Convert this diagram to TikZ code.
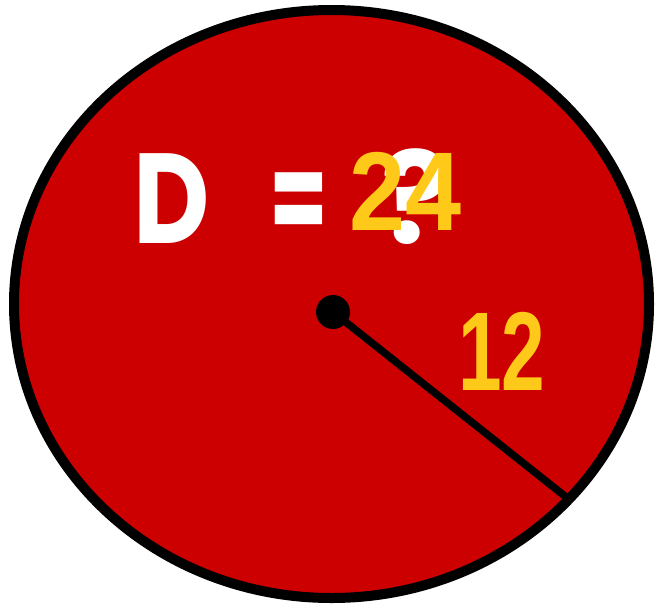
\documentclass[tikz,border=0pt]{standalone}
\usepackage{fontspec}
\usepackage{graphicx}
\usetikzlibrary{shapes.geometric}
\newfontfamily\handfont{Poppins}
\newfontfamily\numfont{Liberation Sans}
\definecolor{discred}{HTML}{CC0000}
\definecolor{numyellow}{HTML}{FFC91A}
\tikzset{
  disc/.style={draw=black, line width=10pt, fill=discred},
  radiusline/.style={draw=black, line width=7.5pt},
  handtext/.style={text=white, font=\handfont\fontsize{128}{128}\selectfont\bfseries, inner sep=0pt, anchor=base},
  numtext/.style={text=numyellow, font=\numfont\fontsize{112}{112}\selectfont\bfseries, inner sep=0pt, anchor=base}
}
\begin{document}
\begin{tikzpicture}[x=1pt,y=-1pt]
\useasboundingbox (0,0) rectangle (655,605);
\node[disc, ellipse, minimum width=635pt, minimum height=588pt, inner sep=0pt] (circ) at (331.5,304) {};
\coordinate (ctr) at (333,312);
\coordinate (rim) at (571,501);
\draw[radiusline] (ctr) -- (rim);
\fill[black] (ctr) circle (17pt);
\node[handtext] (dlabel) at (172,243) {\scalebox{0.82}[1]{D}};
\node[handtext] (eqlabel) at (299,243) {\scalebox{0.66}[1]{=}};
\node[handtext] (qlabel) at (416,243) {?};
\node[numtext] (diam) at (406,230) {\scalebox{0.9}[1]{24}};
\node[numtext] (rad) at (502,390) {\scalebox{0.7}[1]{12}};
\end{tikzpicture}
\end{document}
